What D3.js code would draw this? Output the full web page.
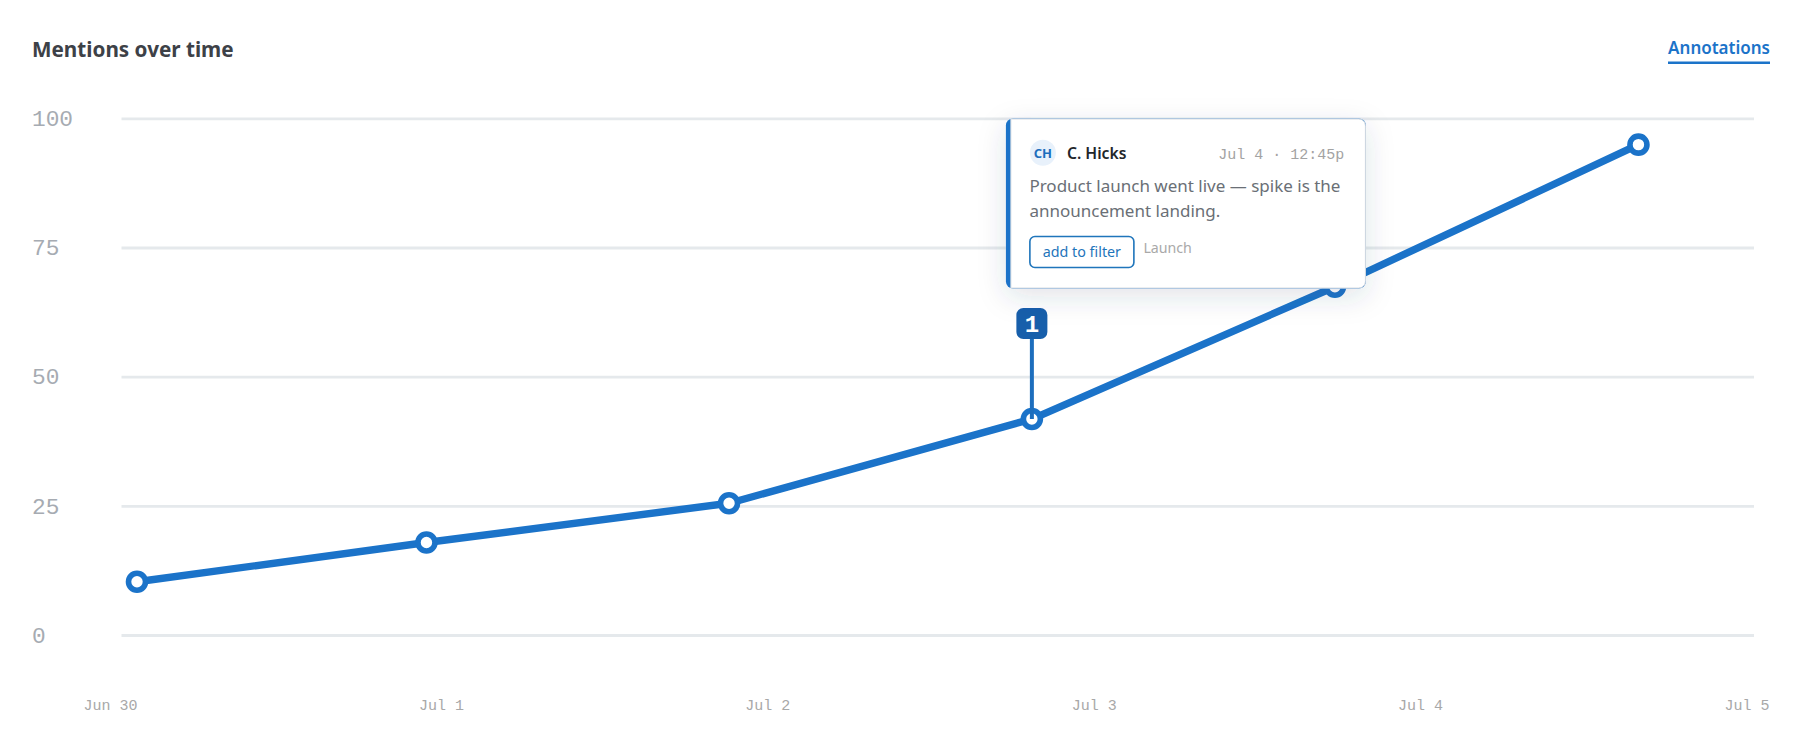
<!DOCTYPE html>
<html>
<head>
<meta charset="utf-8">
<script src="https://cdn.jsdelivr.net/npm/d3@7"></script>
<style>
    html, body { margin: 0; padding: 0; background: #fff; }
    svg { display: block; }
    text { font-family: "Noto Sans", Roboto, sans-serif; }
    .mono, .mono text { font-family: "Liberation Mono", monospace; }
    .y-axis .domain, .x-axis .domain, .x-axis line { display: none; }
</style>
</head>
<body>
<div id="chart"></div>
<script>
const timestamps = ["2024-06-30T00:00", "2024-06-30T21:17", "2024-07-01T19:32", "2024-07-02T17:48", "2024-07-03T16:05", "2024-07-04T14:24"];
const mentions = [10.3, 17.9, 25.5, 41.8, 67.4, 94.9];
const yTicks = [0, 25, 50, 75, 100];
const xTicks = ["2024-06-30T00:00", "2024-07-01T00:00", "2024-07-02T00:00", "2024-07-03T00:00", "2024-07-04T00:00", "2024-07-05T00:00"];
const annotatedIndex = 3;

const width = 1800;
const height = 747;
const blue = "#1b73c9";

const parse = d3.utcParse("%Y-%m-%dT%H:%M");
const points = timestamps.map((t, i) => ({ date: parse(t), value: mentions[i] }));

const x = d3.scaleUtc()
    .domain([parse(xTicks[0]), parse(xTicks[xTicks.length - 1])])
    .range([137, 1769]);
const y = d3.scaleLinear().domain([0, 100]).range([635, 118.3]);

const svg = d3.select("#chart").append("svg")
    .attr("width", width)
    .attr("height", height);

const defs = svg.append("defs");
defs.append("filter")
    .attr("id", "card-shadow")
    .attr("x", "-20%").attr("y", "-30%").attr("width", "140%").attr("height", "170%")
    .append("feDropShadow")
    .attr("dx", 0).attr("dy", 8).attr("stdDeviation", 14)
    .attr("flood-color", "#2a3f5f").attr("flood-opacity", 0.14);

// header
svg.append("text")
    .attr("x", 32).attr("y", 57)
    .attr("font-size", 20.7).attr("font-weight", 700).attr("fill", "#3d4147")
    .text("Mentions over time");

svg.append("text")
    .attr("x", 1770).attr("y", 54)
    .attr("text-anchor", "end")
    .attr("font-size", 17).attr("font-weight", 600).attr("fill", blue)
    .text("Annotations");
svg.append("rect")
    .attr("x", 1668).attr("y", 61.5).attr("width", 102).attr("height", 2.5)
    .attr("fill", blue);

// y axis + grid
const yAxis = svg.append("g")
    .attr("class", "y-axis mono")
    .attr("transform", "translate(121.5,0)")
    .call(d3.axisLeft(y).tickValues(yTicks).tickSize(-(1754 - 121.5)));
yAxis.selectAll("line").attr("stroke", "#e5e9ec").attr("stroke-width", 2.8);
yAxis.selectAll("text")
    .attr("x", 32 - 121.5).attr("dy", "0.32em")
    .attr("text-anchor", "start")
    .attr("font-size", 22.8).attr("fill", "#a6abb2");

// x axis, labels sit left of their date
const xAxis = svg.append("g")
    .attr("class", "x-axis mono")
    .attr("transform", "translate(0,710)")
    .call(d3.axisBottom(x).tickValues(xTicks.map(parse)).tickFormat(d3.utcFormat("%b %-d")));
xAxis.selectAll("text")
    .attr("y", 0).attr("dy", 0)
    .attr("text-anchor", "end")
    .attr("font-size", 15).attr("fill", "#a8a8a8");

// series
const line = d3.line().x(d => x(d.date)).y(d => y(d.value));
svg.append("path")
    .datum(points)
    .attr("fill", "none")
    .attr("stroke", blue)
    .attr("stroke-width", 7.4)
    .attr("stroke-linejoin", "round")
    .attr("d", line);

svg.append("g")
    .selectAll("circle")
    .data(points)
    .enter().append("circle")
    .attr("cx", d => x(d.date))
    .attr("cy", d => y(d.value))
    .attr("r", 8.5)
    .attr("fill", "#fff")
    .attr("stroke", blue)
    .attr("stroke-width", 5.6);

// annotation marker
const anchor = points[annotatedIndex];
const ax = x(anchor.date);
const ay = y(anchor.value);
svg.append("line")
    .attr("x1", ax).attr("x2", ax)
    .attr("y1", 330).attr("y2", ay)
    .attr("stroke", "#1d6ebd").attr("stroke-width", 4);
svg.append("rect")
    .attr("x", ax - 15.5).attr("y", 308)
    .attr("width", 31).attr("height", 31).attr("rx", 7)
    .attr("fill", "#175fab");
svg.append("text")
    .attr("x", ax).attr("y", 331.5)
    .attr("text-anchor", "middle")
    .attr("font-size", 24).attr("font-weight", 700).attr("fill", "#fff")
    .style("font-family", "'Liberation Mono', monospace")
    .text("1");

// annotation card
const card = svg.append("g").attr("transform", `translate(${ax - 26},118.5)`);
const cardW = 360;
const cardH = 170;
card.append("rect")
    .attr("width", cardW).attr("height", cardH).attr("rx", 7)
    .attr("fill", "#fff")
    .attr("filter", "url(#card-shadow)");
card.append("rect")
    .attr("width", cardW).attr("height", cardH).attr("rx", 7)
    .attr("fill", blue);
card.append("path")
    .attr("d", `M5,0.5H${cardW - 7}a6.5,6.5 0 0 1 6.5,6.5V${cardH - 7}a6.5,6.5 0 0 1 -6.5,6.5H5Z`)
    .attr("fill", "#fff")
    .attr("stroke", "#d8dce1");

card.append("circle")
    .attr("cx", 37).attr("cy", 34.3).attr("r", 13)
    .attr("fill", "#e8f1fb");
card.append("text")
    .attr("x", 37).attr("y", 39.3)
    .attr("text-anchor", "middle")
    .attr("font-size", 13).attr("font-weight", 700).attr("fill", "#1d6ebd")
    .text("CH");
card.append("text")
    .attr("x", 61).attr("y", 40.3)
    .attr("font-size", 15.7).attr("font-weight", 600).attr("fill", "#22262b")
    .text("C. Hicks");
card.append("text")
    .attr("x", 338.5).attr("y", 40)
    .attr("text-anchor", "end")
    .attr("font-size", 15).attr("fill", "#a3a3a3")
    .style("font-family", "'Liberation Mono', monospace")
    .text("Jul 4 · 12:45p");
card.append("text")
    .attr("x", 23.5).attr("y", 73.3)
    .attr("font-size", 17).attr("fill", "#6a6f76")
    .text("Product launch went live — spike is the");
card.append("text")
    .attr("x", 23.5).attr("y", 98.5)
    .attr("font-size", 17).attr("fill", "#6a6f76")
    .text("announcement landing.");
card.append("rect")
    .attr("x", 24).attr("y", 118)
    .attr("width", 104).attr("height", 31).attr("rx", 5)
    .attr("fill", "#fff").attr("stroke", "#1f75bb").attr("stroke-width", 1.6);
card.append("text")
    .attr("x", 76).attr("y", 138.8)
    .attr("text-anchor", "middle")
    .attr("font-size", 14.3).attr("fill", "#1f75bb")
    .text("add to filter");
card.append("text")
    .attr("x", 137.5).attr("y", 134.5)
    .attr("font-size", 14.2).attr("fill", "#a9a9a9")
    .text("Launch");
</script>
</body>
</html>
